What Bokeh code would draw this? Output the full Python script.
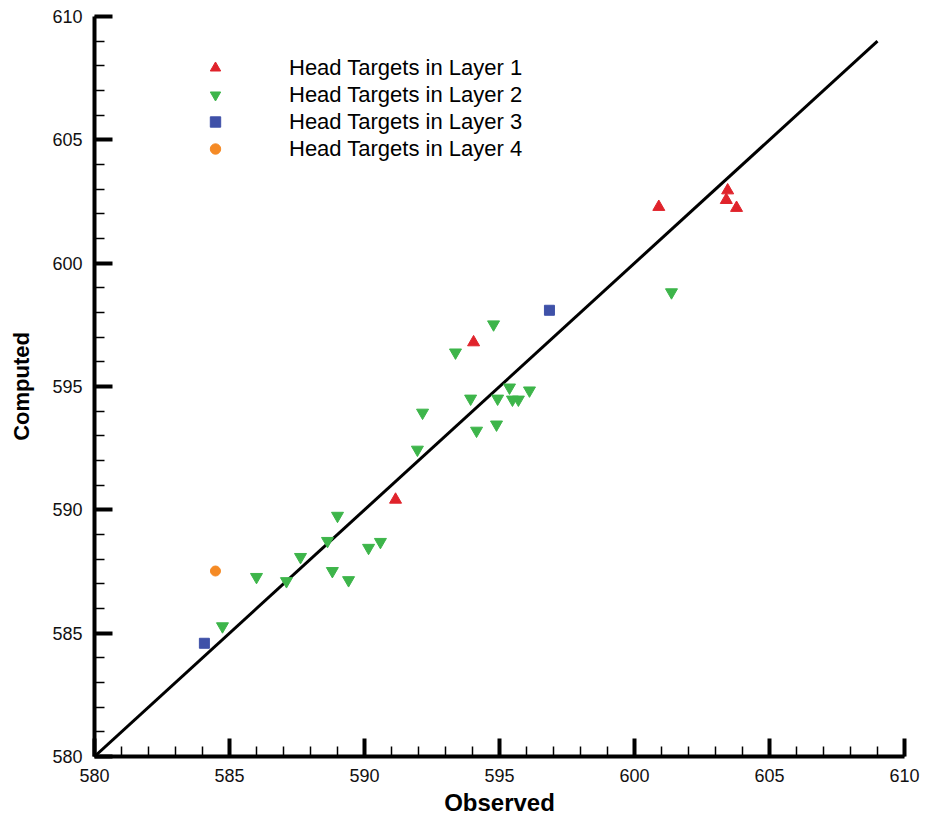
from bokeh.plotting import figure
from bokeh.models import Range1d, SingleIntervalTicker
from bokeh.embed import file_html
from bokeh.resources import INLINE

# Layer 1 (red triangles)
l1_obs = [600.9, 603.45, 603.4, 603.78, 594.04, 591.15]
l1_comp = [602.28, 602.95, 602.56, 602.24, 596.79, 590.41]

# Layer 2 (green inverted triangles)
l2_obs = [601.37, 594.78, 593.37, 595.37, 596.11, 593.93, 594.93, 595.48, 595.70,
          592.15, 594.15, 594.89, 591.96, 589.0, 588.63, 590.15, 590.59, 587.63,
          586.0, 587.11, 588.81, 589.41, 584.74]
l2_comp = [598.82, 597.52, 596.38, 594.96, 594.84, 594.51, 594.51, 594.47, 594.47,
           593.94, 593.21, 593.46, 592.44, 589.76, 588.74, 588.46, 588.70, 588.09,
           587.28, 587.11, 587.52, 587.15, 585.28]

# Layer 3 (blue squares)
l3_obs = [596.85, 584.07]
l3_comp = [598.09, 584.59]

# Layer 4 (orange circle)
l4_obs = [584.48]
l4_comp = [587.52]

# 1:1 line
line_x = [580, 609]
line_y = [580, 609]

legend_labels = ["Head Targets in Layer 1", "Head Targets in Layer 2",
                 "Head Targets in Layer 3", "Head Targets in Layer 4"]

p = figure(width=922, height=818, x_range=Range1d(580, 610), y_range=Range1d(580, 610),
           output_backend="svg", toolbar_location=None,
           min_border_left=94, min_border_right=18, min_border_top=16, min_border_bottom=62)
p.outline_line_color = None
p.xgrid.visible = False
p.ygrid.visible = False
p.background_fill_color = "white"

p.line(line_x, line_y, line_width=3, color="black")

p.scatter(l1_obs, l1_comp, marker="triangle", size=12, fill_color="#e0232b",
          line_color="#e0232b", legend_label=legend_labels[0])
p.scatter(l2_obs, l2_comp, marker="inverted_triangle", size=12, fill_color="#3db54a",
          line_color="#3db54a", legend_label=legend_labels[1])
p.scatter(l3_obs, l3_comp, marker="square", size=10, fill_color="#3f51a8",
          line_color="#3f51a8", legend_label=legend_labels[2])
p.scatter(l4_obs, l4_comp, marker="circle", size=10, fill_color="#f58a25",
          line_color="#f58a25", legend_label=legend_labels[3])

for ax in (p.xaxis[0], p.yaxis[0]):
    ax.ticker = SingleIntervalTicker(interval=5, num_minor_ticks=5)
    ax.axis_line_width = 4
    ax.axis_line_color = "black"
    ax.major_tick_in = 18
    ax.major_tick_out = 0
    ax.minor_tick_in = 10
    ax.minor_tick_out = 0
    ax.major_tick_line_width = 4
    ax.minor_tick_line_width = 1.5
    ax.major_label_text_font = "Liberation Sans"
    ax.major_label_text_font_size = "18px"
    ax.major_label_text_color = "#111111"
    ax.axis_label_text_font = "Liberation Sans"
    ax.axis_label_text_font_style = "bold"
    ax.axis_label_text_color = "black"

p.xaxis.axis_label = "Observed"
p.yaxis.axis_label = "Computed"
p.xaxis.axis_label_text_font_size = "24px"
p.yaxis.axis_label_text_font_size = "22px"
p.xaxis.major_label_standoff = 12
p.yaxis.major_label_standoff = 12
p.xaxis.axis_label_standoff = 4
p.yaxis.axis_label_standoff = 15

lg = p.legend[0]
lg.location = (108, 594)
lg.margin = 0
lg.padding = 0
lg.spacing = 0
lg.border_line_color = None
lg.background_fill_alpha = 0
lg.glyph_width = 26
lg.glyph_height = 27
lg.label_height = 27
lg.label_standoff = 61
lg.label_text_font = "Liberation Sans"
lg.label_text_font_size = "22px"
lg.label_text_color = "black"

open("out.html", "w").write(file_html(p, INLINE))
